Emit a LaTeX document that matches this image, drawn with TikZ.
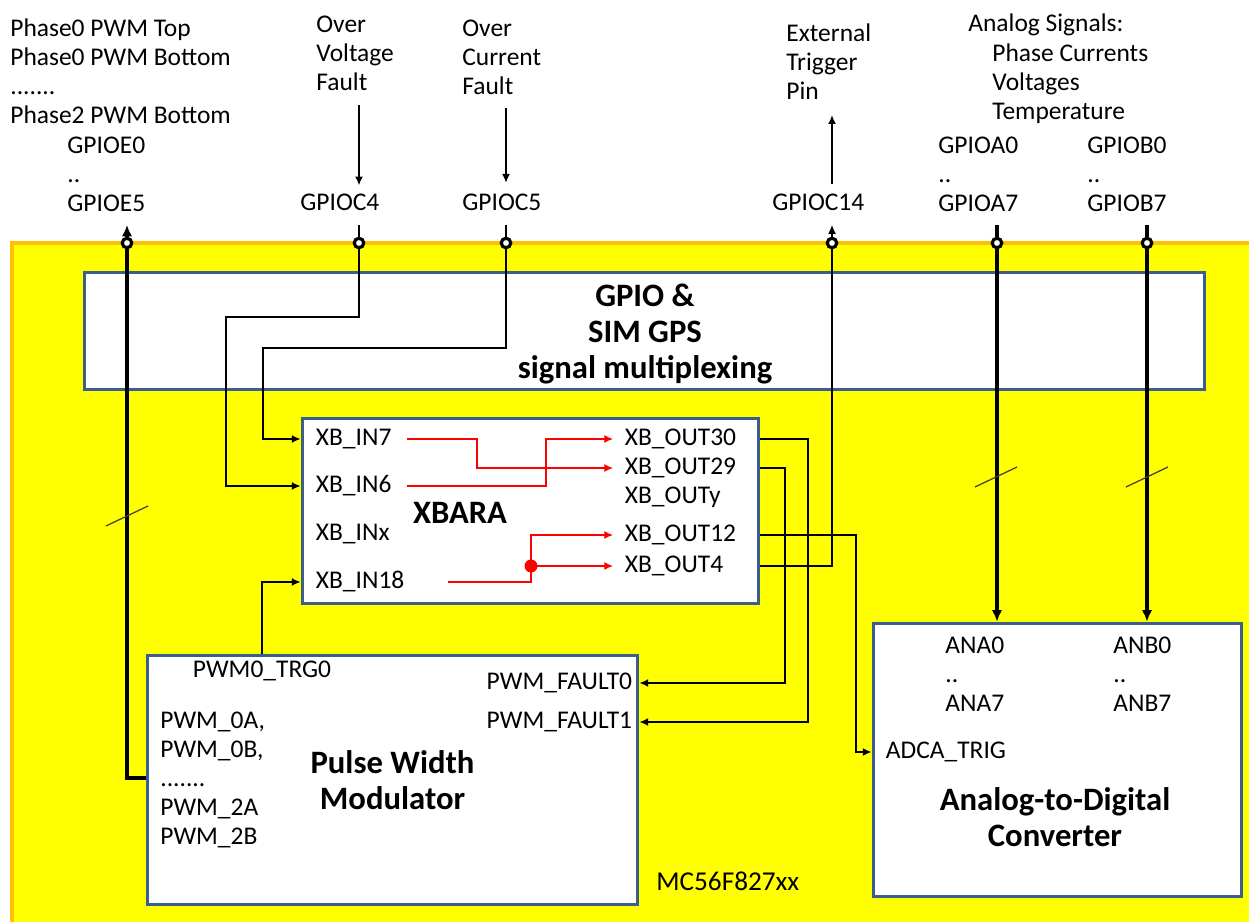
\documentclass[tikz,border=0pt]{standalone}
\usepackage{fontspec}
\setmainfont{Carlito}
\usetikzlibrary{arrows.meta}

\definecolor{chipyellow}{HTML}{FFFF00}
\definecolor{chiporange}{HTML}{FFC000}
\definecolor{boxblue}{HTML}{3A5F8E}

\newcommand{\lblfont}{\fontsize{14.5}{16.5}\selectfont}
\newcommand{\ttlfont}{\fontsize{18.6}{20.5}\selectfont\bfseries}

\tikzset{
  box/.style={draw=boxblue, line width=1.7pt, fill=white, inner sep=0pt},
  ttl/.style={font=\ttlfont, align=center},
  lbl/.style={font=\lblfont, inner sep=2pt},
  txt/.style={font=\lblfont, inner sep=0pt, align=left, anchor=north west},
  pinring/.style={circle, draw, fill=white, line width=1.8pt, minimum size=5.4pt, inner sep=0pt},
  sig/.style={line width=0.75pt},
  bus/.style={line width=2.3pt},
  arr/.style={-{Latex[length=5pt,width=4.5pt]}},
  busarr/.style={-{Latex[length=6.5pt,width=6pt]}},
  xline/.style={red, line width=0.75pt},
  slash/.style={line width=0.7pt, draw=black!85!yellow},
}

\begin{document}
\begin{tikzpicture}[x=0.02cm, y=-0.02cm]
\useasboundingbox (0,0) rectangle (1249,922);
% chip area
\filldraw[fill=chipyellow, draw=chiporange, line width=2pt] (12,243) rectangle (1262,935);

% blocks
\node[box, minimum width=22.42cm, minimum height=2.33cm] (gpio) at (644.5,331) {};
\node[ttl] (gpiottl) at (645,334) {GPIO \&\\SIM GPS\\signal multiplexing};
\node[box, minimum width=9.14cm, minimum height=3.72cm] (xbara) at (530.5,511) {};
\node[box, ttl, minimum width=9.82cm, minimum height=5cm] (pwm) at (392.5,780) {Pulse Width\\Modulator};
\node[box, minimum width=7.38cm, minimum height=5.48cm] (adc) at (1057.5,760) {};

% pins
\foreach \p/\x in {pe5/127, pc4/359, pc5/506, pc14/832, pa7/997, pb7/1147}
  \node[pinring] (\p) at (\x,243) {};

% outside texts
\node[txt] (phtxt) at (10,18) {Phase0 PWM Top\\Phase0 PWM Bottom\\.......\\Phase2 PWM Bottom};
\node[txt] (e0lbl) at (67,137) {GPIOE0\\..\\GPIOE5};
\node[txt] (ovtxt) at (316,16) {Over\\Voltage\\Fault};
\node[txt, anchor=base west] (c4lbl) at (300,211) {GPIOC4};
\node[txt] (octxt) at (462,20) {Over\\Current\\Fault};
\node[txt, anchor=base west] (c5lbl) at (462,211) {GPIOC5};
\node[txt] (ettxt) at (786,23) {External\\Trigger\\Pin};
\node[txt, anchor=base west] (c14lbl) at (772,211) {GPIOC14};
\node[txt, anchor=base west] (antxt) at (968,32) {Analog Signals:};
\node[txt] (ansig) at (992,43) {Phase Currents\\Voltages\\Temperature};
\node[txt] (a0lbl) at (938,137) {GPIOA0\\..\\GPIOA7};
\node[txt] (b0lbl) at (1087,137) {GPIOB0\\..\\GPIOB7};

% XBARA
\node[ttl] (xbtitle) at (460,513) {XBARA};
\node[lbl, anchor=west] (in7) at (312,439) {XB\_IN7};
\node[lbl, anchor=west] (in6) at (312,486) {XB\_IN6};
\node[lbl, anchor=west] (inx) at (312,534) {XB\_INx};
\node[lbl, anchor=west] (in18) at (312,582) {XB\_IN18};
\node[lbl, anchor=west] (out30) at (621,439) {XB\_OUT30};
\node[lbl, anchor=west] (out29) at (621,468) {XB\_OUT29};
\node[lbl, anchor=west] (outy) at (621,497) {XB\_OUTy};
\node[lbl, anchor=west] (out12) at (621,535) {XB\_OUT12};
\node[lbl, anchor=west] (out4) at (621,566) {XB\_OUT4};

% PWM
\node[lbl] (trg) at (262,671) {PWM0\_TRG0};
\node[txt] (pwmout) at (160,712) {PWM\_0A,\\PWM\_0B,\\.......\\PWM\_2A\\PWM\_2B};
\node[lbl, anchor=east] (f0) at (636,683) {PWM\_FAULT0};
\node[lbl, anchor=east] (f1) at (636,722) {PWM\_FAULT1};

% ADC
\node[txt] (analbl) at (945,637) {ANA0\\..\\ANA7};
\node[txt] (anblbl) at (1113,637) {ANB0\\..\\ANB7};
\node[lbl, anchor=west] (trig) at (882,752) {ADCA\_TRIG};
\node[ttl] (adctitle) at (1055,817) {Analog-to-Digital\\Converter};
\node[font=\fontsize{15.5}{18}\selectfont, anchor=base west, inner sep=0pt] (chipname) at (656,890) {MC56F827xx};

% outside signals
\draw[sig, arr, shorten <=8pt, shorten >=5pt] (ovtxt.south -| pc4) -- (c4lbl.north -| pc4);
\draw[sig, arr, shorten <=7pt, shorten >=6.5pt] (octxt.south -| pc5) -- (c5lbl.north -| pc5);
\draw[sig, arr, shorten <=6pt, shorten >=9pt] (c14lbl.north -| pc14) -- (ettxt.south -| pc14);

% stubs above the pins
\draw[sig] (pc4) -- ++(0,-18);
\draw[sig] (pc5) -- ++(0,-18);
\draw[sig, arr] (pc14) -- ++(0,-18);
\draw[bus, busarr] (pe5) -- ++(0,-18);
\draw[bus] (pa7) -- ++(0,-18);
\draw[bus] (pb7) -- ++(0,-18);

% pins to blocks
\draw[sig, arr] (pc5) |- (263,348) |- (xbara.west |- in7);
\draw[sig, arr] (pc4) |- (226,317) |- (xbara.west |- in6);
\draw[sig, arr] (pwm.north -| trg) |- (xbara.west |- in18);
\draw[bus] (pwm.west |- 0,778) -| (pe5);
\draw[bus, busarr] (pa7) -- (adc.north -| pa7);
\draw[bus, busarr] (pb7) -- (adc.north -| pb7);

% XBARA outputs
\draw[sig, arr] (xbara.east |- out30) -| (808,0 |- f1) -- (pwm.east |- f1);
\draw[sig, arr] (xbara.east |- out29) -| (785,0 |- f0) -- (pwm.east |- f0);
\draw[sig, arr] (xbara.east |- out12) -| (856,0 |- trig) -- (adc.west |- trig);
\draw[sig] (xbara.east |- out4) -| (pc14);

% crossbar routing
\draw[xline, arr, shorten <=6.5pt, shorten >=4.5pt] (in7.east) -| (477,0 |- out29) -- (out29.west);
\draw[xline, arr, shorten <=6.5pt, shorten >=4.5pt] (in6.east) -| (546,0 |- out30) -- (out30.west);
\coordinate (split) at (531,0 |- out4);
\draw[xline, arr, shorten <=22.5pt, shorten >=4.5pt] (in18.east) -| (split) |- (out12.west);
\draw[xline, arr, shorten >=4.5pt] (split) -- (out4.west);
\fill[red] (split) circle[radius=1.3mm];

% bus width marks
\foreach \x/\y in {127/516, 996/477, 1147/477}
  \draw[slash] (\x,\y) ++(-21,10) -- ++(42,-20);
\end{tikzpicture}
\end{document}
